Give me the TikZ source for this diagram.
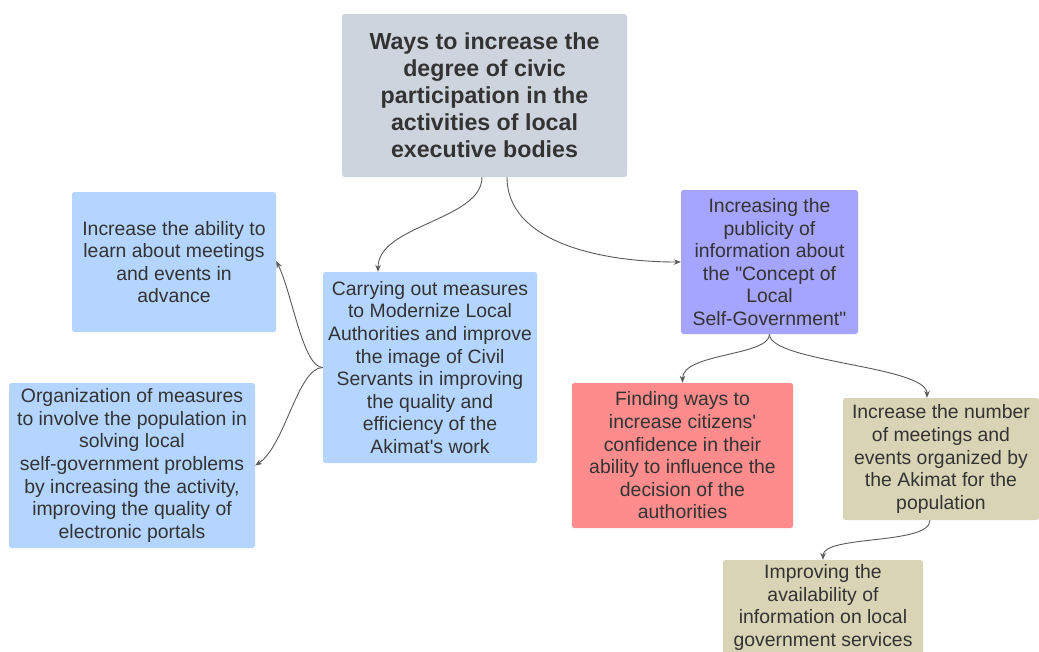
\documentclass[tikz,border=0pt]{standalone}
\usepackage{fontspec}
\newfontfamily\lsans{Liberation Sans}
\usetikzlibrary{arrows.meta}
\definecolor{titlegray}{RGB}{206,212,221}
\definecolor{lblue}{RGB}{180,213,255}
\definecolor{lpurple}{RGB}{165,165,255}
\definecolor{lred}{RGB}{255,140,140}
\definecolor{ltan}{RGB}{218,212,183}
\definecolor{txt}{RGB}{51,51,51}
\definecolor{conn}{RGB}{90,90,90}
\tikzset{
  box/.style={rectangle, rounded corners=2.5pt, inner sep=0pt, align=center,
    text=txt, font=\lsans\fontsize{19.4}{22.6}\selectfont},
  titlebox/.style={box, font=\lsans\bfseries\fontsize{23.2}{27}\selectfont},
  conn/.style={draw=conn, line width=0.9pt, -{Stealth[length=7pt,width=5.5pt]}}
}
\begin{document}
\begin{tikzpicture}[x=1pt,y=-1pt]
\clip (0,0) rectangle (1039,651);
\fill[white] (0,0) rectangle (1039,651);

\node[titlebox, fill=titlegray, minimum width=285, minimum height=163] (t) at (484.5,95.5)
  {Ways to increase the\\degree of civic\\participation in the\\activities of local\\executive bodies};

\node[box, fill=lblue, minimum width=204, minimum height=140] (a) at (174,262)
  {Increase the ability to\\learn about meetings\\and events in\\advance};

\node[box, fill=lblue, minimum width=246, minimum height=165] (b) at (132,465.5)
  {Organization of measures\\to involve the population in\\solving local\\self-government problems\\by increasing the activity,\\improving the quality of\\electronic portals};

\node[box, fill=lblue, minimum width=214, minimum height=191] (c) at (430,367.5)
  {Carrying out measures\\to Modernize Local\\Authorities and improve\\the image of Civil\\Servants in improving\\the quality and\\efficiency of the\\Akimat's work};

\node[box, fill=lpurple, minimum width=177, minimum height=144] (d) at (769.5,262)
  {Increasing the\\publicity of\\information about\\the "Concept of\\Local\\Self-Government"};

\node[box, fill=lred, minimum width=221, minimum height=145] (e) at (682.5,455.5)
  {Finding ways to\\increase citizens'\\confidence in their\\ability to influence the\\decision of the\\authorities};

\node[box, fill=ltan, minimum width=196, minimum height=122] (f) at (941,459)
  {Increase the number\\of meetings and\\events organized by\\the Akimat for the\\population};

\node[box, fill=ltan, minimum width=200, minimum height=95] (g) at (823,607.5)
  {Improving the\\availability of\\information on local\\government services};

\draw[conn] ([xshift=-2.5pt]t.south) .. controls +(0,43) and +(0,-47) .. ([xshift=-52pt]c.north);
\draw[conn] ([xshift=22.5pt]t.south) .. controls +(0,63) and +(-85,0) .. (d.west);
\draw[conn] (c.west) .. controls +(-20,0) and +(16,32) .. ([yshift=1pt]a.east);
\draw[conn] (c.west) .. controls +(-25,0) and +(30,-20) .. (b.east);
\draw[conn] (d.south) .. controls +(0,22) and +(0,-30) .. (e.north);
\draw[conn] (d.south) .. controls +(0,28) and +(0,-32) .. ([xshift=-14pt]f.north);
\draw[conn] ([xshift=-11pt]f.south) .. controls +(0,25) and +(0,-25) .. (g.north);
\end{tikzpicture}
\end{document}
